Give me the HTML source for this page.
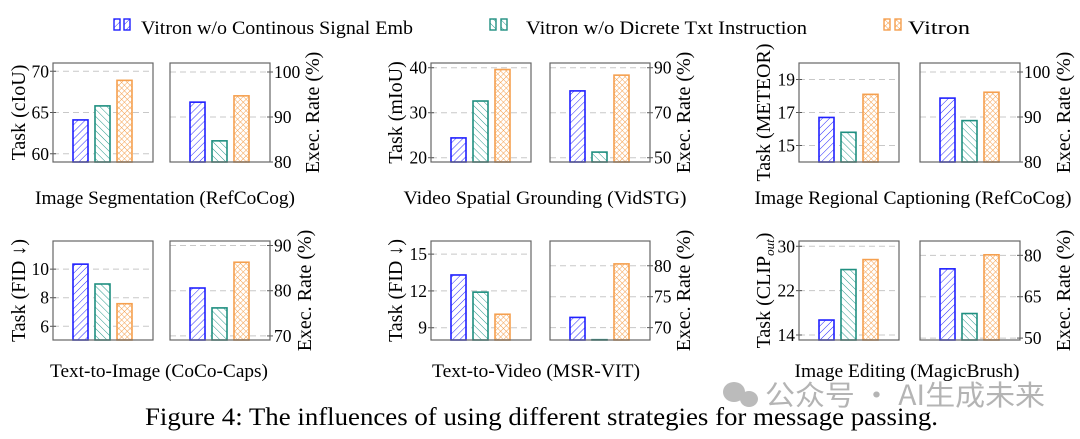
<!DOCTYPE html>
<html><head><meta charset="utf-8">
<style>
html,body{margin:0;padding:0;background:#fff;}
svg{display:block;font-family:"Liberation Serif",serif;}
</style></head>
<body>
<svg id="chart" width="1080" height="439" viewBox="0 0 1080 439" xmlns="http://www.w3.org/2000/svg">
<defs>
<pattern id="hatchBlue" patternUnits="userSpaceOnUse" width="5" height="5" patternTransform="rotate(45)">
<rect width="5" height="5" fill="#fff"/><line x1="0" y1="0" x2="0" y2="5" stroke="#2a2aff" stroke-width="1"/></pattern>
<pattern id="hatchTeal" patternUnits="userSpaceOnUse" width="5" height="5" patternTransform="rotate(-45)">
<rect width="5" height="5" fill="#fff"/><line x1="0" y1="0" x2="0" y2="5" stroke="#2a9a8c" stroke-width="1"/></pattern>
<pattern id="hatchOrange" patternUnits="userSpaceOnUse" width="4" height="4" patternTransform="rotate(45)">
<rect width="4" height="4" fill="#fff"/><line x1="0" y1="0" x2="0" y2="4" stroke="#f5a04f" stroke-width="1"/><line x1="0" y1="0" x2="4" y2="0" stroke="#f5a04f" stroke-width="1"/></pattern>
</defs>
<g id="legend">
<g>
<rect x="114" y="19" width="6" height="11" fill="url(#hatchBlue)" stroke="#2020ff" stroke-width="1.4"/>
<rect x="124" y="19" width="6" height="11" fill="url(#hatchBlue)" stroke="#2020ff" stroke-width="1.4"/>
<text x="141" y="34" font-size="19" textLength="272" lengthAdjust="spacingAndGlyphs">Vitron w/o Continous Signal Emb</text></g>
<g>
<rect x="490" y="19" width="6" height="11" fill="url(#hatchTeal)" stroke="#1f8f80" stroke-width="1.4"/>
<rect x="501" y="19" width="6" height="11" fill="url(#hatchTeal)" stroke="#1f8f80" stroke-width="1.4"/>
<text x="526" y="34" font-size="19" textLength="281" lengthAdjust="spacingAndGlyphs">Vitron w/o Dicrete Txt Instruction</text></g>
<g>
<rect x="884" y="19" width="6" height="11" fill="url(#hatchOrange)" stroke="#f5a04f" stroke-width="1.4"/>
<rect x="895" y="19" width="6" height="11" fill="url(#hatchOrange)" stroke="#f5a04f" stroke-width="1.4"/>
<text x="908" y="34" font-size="19" textLength="62" lengthAdjust="spacingAndGlyphs">Vitron</text></g>
</g>
<g id="panels"></g>
<text x="145" y="425" font-size="25" textLength="793" lengthAdjust="spacingAndGlyphs">Figure 4: The influences of using different strategies for message passing.</text>
<g>
<ellipse cx="734" cy="392" rx="11" ry="10" fill="#bbb"/><ellipse cx="749" cy="399" rx="9" ry="8" fill="#bbb"/>
<text x="765" y="405" font-size="28" fill="#b4b4b4" textLength="280" lengthAdjust="spacingAndGlyphs" font-family="'Noto Sans CJK SC',sans-serif">公众号 · AI生成未来</text>
</g>
</svg>
<script>
// categories
const series = ["Vitron w/o Continous Signal Emb", "Vitron w/o Dicrete Txt Instruction", "Vitron"];
// task values per panel
const segTask = [64.1, 65.8, 68.9];
const segExec = [93.3, 84.7, 94.7];
const vsgTask = [24.4, 32.6, 39.6];
const vsgExec = [79.7, 52.5, 86.7];
const ircTask = [16.7, 15.8, 18.1];
const ircExec = [94.2, 89.2, 95.5];
const t2iTask = [10.35, 8.96, 7.58];
const t2iExec = [80.6, 76.2, 86.3];
const t2vTask = [13.3, 11.9, 10.1];
const t2vExec = [71.65, 68.05, 80.3];
const ieTask = [16.7, 25.8, 27.6];
const ieExec = [75.1, 58.9, 80.2];
// tick labels
const segTaskTicks = [60, 65, 70];
const segExecTicks = [80, 90, 100];
const vsgTaskTicks = [20, 30, 40];
const vsgExecTicks = [50, 70, 90];
const ircTaskTicks = [15, 17, 19];
const ircExecTicks = [80, 90, 100];
const t2iTaskTicks = [6, 8, 10];
const t2iExecTicks = [70, 80, 90];
const t2vTaskTicks = [9, 12, 15];
const t2vExecTicks = [70, 75, 80];
const ieTaskTicks = [14, 22, 30];
const ieExecTicks = [50, 65, 80];
// axis domains
const segTaskDomain = [59, 71];
const segExecDomain = [80, 102];
const vsgTaskDomain = [19.05, 41.05];
const vsgExecDomain = [48.1, 92.1];
const ircTaskDomain = [14, 20];
const ircExecDomain = [80, 102];
const t2iTaskDomain = [5.04, 11.97];
const t2iExecDomain = [69.1, 91];
const t2vTaskDomain = [8, 16.07];
const t2vExecDomain = [68, 84];
const ieTaskDomain = [13.1, 30.95];
const ieExecDomain = [49.3, 85.2];

const NS = "http://www.w3.org/2000/svg";
const root = document.getElementById("panels");
const fills = ["url(#hatchBlue)", "url(#hatchTeal)", "url(#hatchOrange)"];
const strokes = ["#2020ff", "#1f8f80", "#f5a04f"];
const keys = ["continous", "discrete", "vitron"];

function mk(tag, attrs, parent) {
  const e = document.createElementNS(NS, tag);
  for (const k in attrs) e.setAttribute(k, attrs[k]);
  parent.appendChild(e);
  return e;
}

function drawBox(g, x0, y0, y1, values, ticks, domain, side, id) {
  const x1 = x0 + 100;
  const sc = v => y1 - (v - domain[0]) / (domain[1] - domain[0]) * (y1 - y0);
  const box = mk("g", {}, g);
  
  
  ticks.forEach(t => {
    const y = sc(t);
    const gl = mk("line", {x1: x0, x2: x1, y1: y, y2: y, stroke: "#c8c8c8", "stroke-width": 1, "stroke-dasharray": "6,4"}, box);
    
    
    const ax = side === "left" ? x0 : x1;
    const tk = mk("line", {x1: ax - 3, x2: ax + 3, y1: y, y2: y, stroke: "#555", "stroke-width": 1}, box);
    
    
    const tl = mk("text", {x: side === "left" ? x0 - 4 : x1 + 4, y: y + 6, "font-size": 17.5, "text-anchor": side === "left" ? "end" : "start"}, box);
    tl.textContent = t;
    
    
  });
  values.forEach((v, i) => {
    const top = sc(v);
    const r = mk("rect", {x: x0 + 20 + i * 22, y: top, width: 15, height: Math.max(0, y1 - top), fill: fills[i], stroke: strokes[i], "stroke-width": 1.6}, box);
    
    
  });
  const fr = mk("rect", {x: x0, y: y0, width: 100, height: y1 - y0, fill: "none", stroke: "#666", "stroke-width": 1.2}, box);
  
  
}

function panel(cfg) {
  const g = mk("g", {}, root);
  
  
  drawBox(g, cfg.lx, cfg.y0, cfg.y1, cfg.task, cfg.taskTicks, cfg.taskDomain, "left", cfg.id + '-task');
  drawBox(g, cfg.rx, cfg.y0, cfg.y1, cfg.exec, cfg.execTicks, cfg.execDomain, "right", cfg.id + '-exec');
  const cy = (cfg.y0 + cfg.y1) / 2;
  const lt = mk("text", {x: 0, y: 0, "font-size": 20, "text-anchor": "middle", transform: `translate(${cfg.ltx},${cy}) rotate(-90)`}, g);
  lt.innerHTML = cfg.leftTitle;
  
  
  const rt = mk("text", {x: 0, y: 0, "font-size": 20, "text-anchor": "middle", transform: `translate(${cfg.rtx},${cy}) rotate(-90)`}, g);
  rt.textContent = "Exec. Rate (%)";
  
  
  const tt = mk("text", {x: cfg.tx, y: cfg.ty, "font-size": 19, "text-anchor": "middle", textLength: cfg.tw, lengthAdjust: "spacingAndGlyphs"}, g);
  tt.textContent = cfg.title;
  
  
}

panel({id: "seg", lx: 53, rx: 170, y0: 63, y1: 162, task: segTask, exec: segExec, taskTicks: segTaskTicks, execTicks: segExecTicks, taskDomain: segTaskDomain, execDomain: segExecDomain, ltx: 25, rtx: 319, leftTitle: "Task (cIoU)", title: "Image Segmentation (RefCoCog)", tx: 165, ty: 204, tw: 260});
panel({id: "vsg", lx: 431, rx: 550, y0: 63, y1: 162, task: vsgTask, exec: vsgExec, taskTicks: vsgTaskTicks, execTicks: vsgExecTicks, taskDomain: vsgTaskDomain, execDomain: vsgExecDomain, ltx: 402, rtx: 690, leftTitle: "Task (mIoU)", title: "Video Spatial Grounding (VidSTG)", tx: 545, ty: 204, tw: 283});
panel({id: "irc", lx: 799, rx: 920, y0: 63, y1: 162, task: ircTask, exec: ircExec, taskTicks: ircTaskTicks, execTicks: ircExecTicks, taskDomain: ircTaskDomain, execDomain: ircExecDomain, ltx: 770, rtx: 1070, leftTitle: "Task (METEOR)", title: "Image Regional Captioning (RefCoCog)", tx: 913, ty: 204, tw: 317});
panel({id: "t2i", lx: 53, rx: 170, y0: 241, y1: 340, task: t2iTask, exec: t2iExec, taskTicks: t2iTaskTicks, execTicks: t2iExecTicks, taskDomain: t2iTaskDomain, execDomain: t2iExecDomain, ltx: 25, rtx: 311, leftTitle: "Task (FID ↓)", title: "Text-to-Image (CoCo-Caps)", tx: 159, ty: 377, tw: 218});
panel({id: "t2v", lx: 431, rx: 550, y0: 241, y1: 340, task: t2vTask, exec: t2vExec, taskTicks: t2vTaskTicks, execTicks: t2vExecTicks, taskDomain: t2vTaskDomain, execDomain: t2vExecDomain, ltx: 402, rtx: 690, leftTitle: "Task (FID ↓)", title: "Text-to-Video (MSR-VIT)", tx: 536, ty: 377, tw: 208});
panel({id: "ie", lx: 799, rx: 920, y0: 241, y1: 340, task: ieTask, exec: ieExec, taskTicks: ieTaskTicks, execTicks: ieExecTicks, taskDomain: ieTaskDomain, execDomain: ieExecDomain, ltx: 770, rtx: 1070, leftTitle: 'Task (CLIP<tspan font-size="13" font-style="italic" dy="4">out</tspan><tspan dy="-4">)</tspan>', title: "Image Editing (MagicBrush)", tx: 907, ty: 377, tw: 225});
</script>
</body></html>
